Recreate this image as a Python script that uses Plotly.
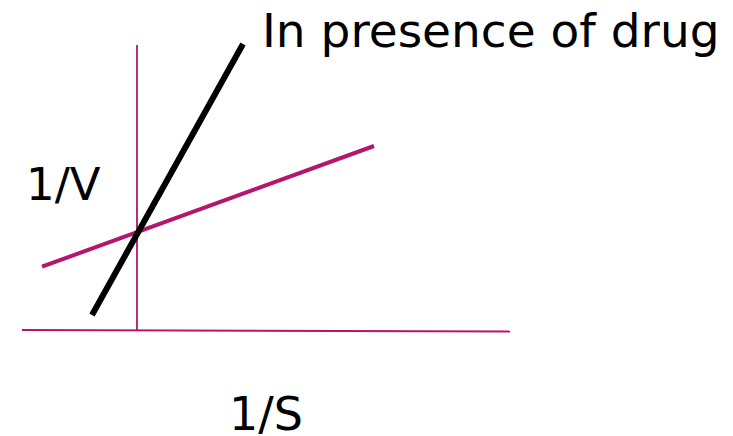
import plotly.graph_objects as go

# Lineweaver-Burk style diagram (arbitrary units)
axis_x_h = [-11.5, 37.3]      # horizontal (1/S) axis extent
axis_y_h = [0.0, -0.15]
axis_x_v = [0.0, 0.0]         # vertical (1/V) axis
axis_y_v = [0.0, 28.5]

no_drug_x = [-9.5, 23.7]      # magenta line
no_drug_y = [6.33, 18.4]
drug_x = [-4.5, 10.6]         # black line, in presence of drug
drug_y = [1.5, 28.6]

label_drug = "In presence of drug"
label_y = "1/V"
label_x = "1/S"

MAG = "#B3166C"
FONT = "DejaVu Sans"

fig = go.Figure()
fig.add_trace(go.Scatter(x=axis_x_h, y=axis_y_h, mode="lines",
                         line=dict(color=MAG, width=2), hoverinfo="skip"))
fig.add_trace(go.Scatter(x=axis_x_v, y=axis_y_v, mode="lines",
                         line=dict(color=MAG, width=1.8), hoverinfo="skip"))
fig.add_trace(go.Scatter(x=no_drug_x, y=no_drug_y, mode="lines",
                         line=dict(color=MAG, width=4), hoverinfo="skip"))
fig.add_trace(go.Scatter(x=drug_x, y=drug_y, mode="lines",
                         line=dict(color="black", width=6), hoverinfo="skip"))

fig.add_annotation(x=12.3, y=30.0, text=label_drug, xanchor="left", yanchor="middle",
                   showarrow=False, font=dict(family=FONT, size=47, color="black"))
fig.add_annotation(x=-11.3, y=14.6, text=label_y, xanchor="left", yanchor="middle",
                   showarrow=False, font=dict(family=FONT, size=45, color="black"))
fig.add_annotation(x=9.0, y=-8.35, text=label_x, xanchor="left", yanchor="middle",
                   showarrow=False, font=dict(family=FONT, size=46, color="black"))

fig.update_layout(
    width=733, height=436, margin=dict(l=0, r=0, t=0, b=0),
    paper_bgcolor="white", plot_bgcolor="white", showlegend=False,
    xaxis=dict(range=[-12.9, 60.4], visible=False, fixedrange=True),
    yaxis=dict(range=[-11.4, 32.2], visible=False, fixedrange=True),
)
fig.write_html("out.html")
